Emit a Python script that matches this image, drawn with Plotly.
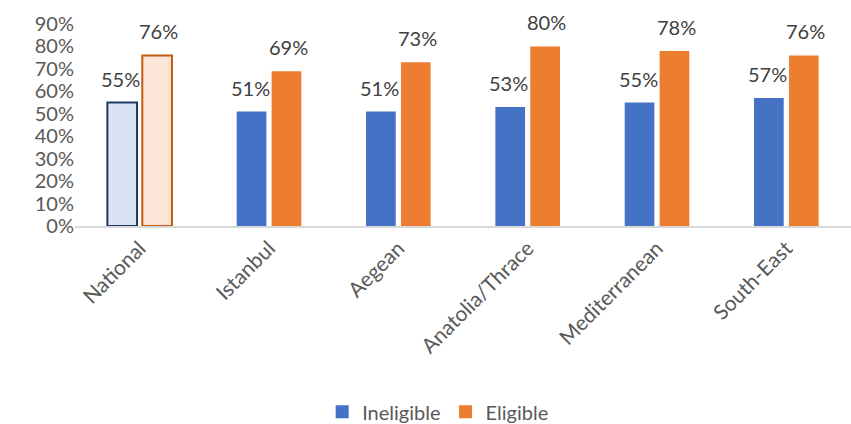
import plotly.graph_objects as go

categories = ["National", "Istanbul", "Aegean", "Anatolia/Thrace", "Mediterranean", "South-East"]
ineligible = [55, 51, 51, 53, 55, 57]
eligible = [76, 69, 73, 80, 78, 76]
tick_vals = [0, 10, 20, 30, 40, 50, 60, 70, 80, 90]
tick_text = [f"{v}%" for v in tick_vals]

FONT = "Lato, Calibri, sans-serif"
TXT = "#595959"
BLUE = "#4472c4"
ORANGE = "#ed7d31"

n = len(categories)
ine_fill = ["#dae3f3"] + [BLUE] * (n - 1)
ine_line = ["#203864"] + [BLUE] * (n - 1)
eli_fill = ["#fbe5d6"] + [ORANGE] * (n - 1)
eli_line = ["#c55a11"] + [ORANGE] * (n - 1)
lw = [2] + [0] * (n - 1)

fig = go.Figure()
fig.add_trace(go.Bar(
    x=categories, y=ineligible, name="Ineligible", showlegend=False,
    marker=dict(color=ine_fill, line=dict(color=ine_line, width=lw)),
))
fig.add_trace(go.Bar(
    x=categories, y=eligible, name="Eligible", showlegend=False,
    marker=dict(color=eli_fill, line=dict(color=eli_line, width=lw)),
))
# legend entries (solid squares)
for name, col in [("Ineligible", BLUE), ("Eligible", ORANGE)]:
    fig.add_trace(go.Scatter(
        x=[None], y=[None], mode="markers", name=name,
        marker=dict(symbol="square", size=13, color=col),
    ))

# data labels
for vals, shift in [(ineligible, -19), (eligible, 19)]:
    for c, v in zip(categories, vals):
        fig.add_annotation(
            x=c, y=v, text=f"{v}%", showarrow=False, xshift=shift, yshift=10,
            yanchor="bottom", font=dict(size=20, color="#404040", family=FONT),
        )

fig.update_layout(
    width=851, height=424,
    margin=dict(l=75, r=0, t=24, b=198, autoexpand=False),
    paper_bgcolor="white", plot_bgcolor="white",
    barmode="group", bargap=0.46, bargroupgap=0.15,
    font=dict(family=FONT, color=TXT, size=19),
    showlegend=True,
    legend=dict(orientation="h", x=0.468, xanchor="center", y=-0.92, yanchor="middle",
                font=dict(size=20, color=TXT, family=FONT), traceorder="normal",
                itemwidth=30),
)
fig.update_xaxes(
    tickangle=-45, showline=True, linecolor="#d9d9d9", linewidth=1.5,
    tickfont=dict(size=21, color=TXT, family=FONT), ticks="", automargin=False,
)
fig.update_yaxes(
    range=[0, 90], tickvals=tick_vals, ticktext=tick_text, showgrid=False,
    zeroline=False, tickfont=dict(size=20, color=TXT, family=FONT), ticks="",
    automargin=False,
)

fig.write_html("out.html")
